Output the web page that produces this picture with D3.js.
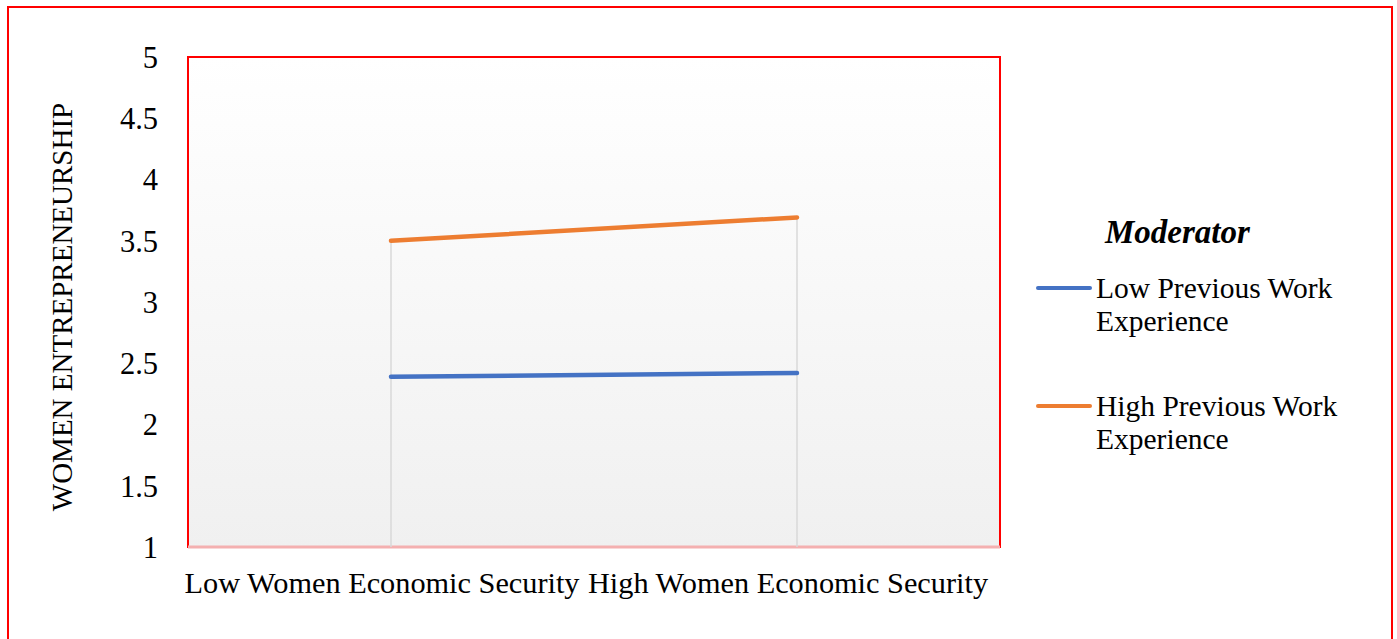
<!DOCTYPE html>
<html>
<head>
<meta charset="utf-8">
<style>
    body
    {
        margin:0;
        background:white;
    }
    text
    {
        font-family:"Liberation Serif","Times New Roman",serif;
        fill:black;
    }
</style>
<script src="https://d3js.org/d3.v7.min.js"></script>
</head>
<body>
<svg id="chart"></svg>
<script>
    var categories = ["Low Women Economic Security","High Women Economic Security"];
    var seriesNames = ["Low Previous Work Experience","High Previous Work Experience"];
    var lowWork = [2.39,2.42];
    var highWork = [3.50,3.69];
    var yTicks = [1,1.5,2,2.5,3,3.5,4,4.5,5];
    var colors = ["#4472c4","#ed7d31"];

    var screen = {width:1397,height:639};
    var plot = {left:188,top:57,right:1000,bottom:547};

    var svg = d3.select("#chart")
        .attr("width",screen.width)
        .attr("height",screen.height);

    // outer frame, bottom edge runs off the picture
    svg.append("rect")
        .attr("x",8).attr("y",7)
        .attr("width",1384).attr("height",660)
        .attr("fill","none")
        .attr("stroke","#ff0000")
        .attr("stroke-width",2);

    var grad = svg.append("defs").append("linearGradient")
        .attr("id","bg")
        .attr("x1",0).attr("y1",0).attr("x2",0).attr("y2",1);
    grad.append("stop").attr("offset","0%").attr("stop-color","#ffffff");
    grad.append("stop").attr("offset","100%").attr("stop-color","#f0f0f0");

    var xScale = d3.scaleBand()
        .domain(categories)
        .range([plot.left,plot.right]);
    var yScale = d3.scaleLinear()
        .domain([1,5])
        .range([plot.bottom,plot.top]);
    var xMid = function(c){ return xScale(c)+xScale.bandwidth()/2; };

    svg.append("rect")
        .attr("x",plot.left).attr("y",plot.top)
        .attr("width",plot.right-plot.left)
        .attr("height",plot.bottom-plot.top)
        .attr("fill","url(#bg)")
        .attr("stroke","#ff0000")
        .attr("stroke-width",2);

    // pale baseline
    svg.append("line")
        .attr("x1",plot.left).attr("x2",plot.right)
        .attr("y1",yScale(1)).attr("y2",yScale(1))
        .attr("stroke","#f4b0b0")
        .attr("stroke-width",3);

    // drop lines
    svg.selectAll(".drop")
        .data(categories)
        .enter()
        .append("line")
        .attr("class","drop")
        .attr("x1",xMid).attr("x2",xMid)
        .attr("y1",function(c,i){ return yScale(d3.max([lowWork[i],highWork[i]])); })
        .attr("y2",yScale(1))
        .attr("stroke","#d9d9d9")
        .attr("stroke-width",1.5);

    var yAxis = svg.append("g")
        .attr("transform","translate("+(plot.left-30)+",0)")
        .call(d3.axisLeft(yScale).tickValues(yTicks).tickSize(0).tickPadding(0).tickFormat(d3.format("")));
    yAxis.select(".domain").remove();
    yAxis.selectAll("text")
        .style("font-family","Liberation Serif")
        .style("font-size","30.5px")
        .attr("dy","0.34em");

    var xAxis = svg.append("g")
        .attr("transform","translate(0,"+(plot.bottom+36)+")")
        .call(d3.axisBottom(xScale).tickSize(0).tickPadding(0));
    xAxis.select(".domain").remove();
    xAxis.selectAll("text")
        .style("font-family","Liberation Serif")
        .style("font-size","30.3px")
        .attr("dx","-9")
        .attr("dy","0.34em");

    svg.append("text")
        .attr("transform","translate(72,307) rotate(-90)")
        .attr("text-anchor","middle")
        .style("font-size","29px")
        .text("WOMEN ENTREPRENEURSHIP");

    var line = d3.line()
        .x(function(d,i){ return xMid(categories[i]); })
        .y(function(d){ return yScale(d); });

    svg.selectAll(".series")
        .data([lowWork,highWork])
        .enter()
        .append("path")
        .attr("class","series")
        .attr("d",line)
        .attr("fill","none")
        .attr("stroke",function(d,i){ return colors[i]; })
        .attr("stroke-width",4.5)
        .attr("stroke-linecap","round");

    // legend
    var legend = svg.append("g");
    legend.append("text")
        .attr("x",1105).attr("y",243)
        .style("font-size","33px")
        .style("font-weight","bold")
        .style("font-style","italic")
        .text("Moderator");

    var items = legend.selectAll(".item")
        .data(seriesNames)
        .enter()
        .append("g")
        .attr("class","item")
        .attr("transform",function(d,i){ return "translate(0,"+(288+i*118)+")"; });
    items.append("line")
        .attr("x1",1038).attr("x2",1090)
        .attr("y1",0).attr("y2",0)
        .attr("stroke",function(d,i){ return colors[i]; })
        .attr("stroke-width",4)
        .attr("stroke-linecap","round");
    items.append("text")
        .attr("x",1096).attr("y",10)
        .style("font-size","29.5px")
        .text(function(d){ return d.split(" Experience")[0]; });
    items.append("text")
        .attr("x",1096).attr("y",43)
        .style("font-size","29.5px")
        .text("Experience");
</script>
</body>
</html>
